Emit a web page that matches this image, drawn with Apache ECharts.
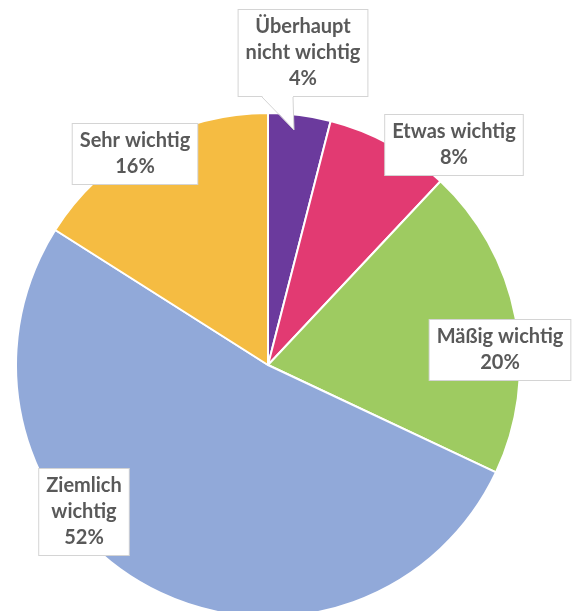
<!DOCTYPE html>
<html>
<head>
<meta charset="utf-8">
<script src="https://cdn.jsdelivr.net/npm/echarts@6/dist/echarts.min.js"></script>
<style>
  html, body { margin: 0; padding: 0; background: #ffffff; }
  #chart { width: 581px; height: 611px; }
</style>
</head>
<body>
<div id="chart"></div>
<script>
// Answer categories, clockwise from 12 o'clock
const categories = [
  'Überhaupt\nnicht wichtig',
  'Etwas wichtig',
  'Mäßig wichtig',
  'Ziemlich\nwichtig',
  'Sehr wichtig'
];
// Share of answers in percent
const shares = [4, 8, 20, 52, 16];
const colors = ['#6b3a9d', '#e23a72', '#9ecb61', '#91a9d9', '#f5bc42'];

// Where each label box is centred
const labelCenters = [
  [303, 53],
  [454, 145],
  [500, 350],
  [84, 512],
  [135, 154]
];

const chart = echarts.init(document.getElementById('chart'), null, { renderer: 'canvas' });

chart.setOption({
  animation: false,
  backgroundColor: '#ffffff',
  series: [{
    type: 'pie',
    center: [268, 365],
    radius: [0, 252],
    startAngle: 90,
    clockwise: true,
    avoidLabelOverlap: false,
    itemStyle: { borderColor: '#ffffff', borderWidth: 2 },
    label: {
      show: true,
      position: 'outside',
      formatter: '{b}\n{d}%',
      fontFamily: 'Lato',
      fontWeight: 'bold',
      fontSize: 20,
      lineHeight: 26,
      color: '#595959',
      align: 'center',
      backgroundColor: '#ffffff',
      borderColor: '#d4d4d4',
      borderWidth: 1,
      padding: [4, 7]
    },
    labelLine: { show: false },
    labelLayout: function (params) {
      const c = labelCenters[params.dataIndex];
      return { x: c[0], y: c[1], align: 'center', verticalAlign: 'middle', hideOverlap: false };
    },
    data: categories.map((name, i) => ({
      name: name,
      value: shares[i],
      itemStyle: { color: colors[i] }
    }))
  }],
  graphic: [
    // callout pointer from the top label to its slice
    {
      type: 'polygon',
      z: 100,
      shape: { points: [[262, 96], [293, 96], [294, 130]] },
      style: { fill: '#ffffff', stroke: null }
    },
    {
      type: 'polyline',
      z: 101,
      shape: { points: [[262, 97], [294, 130], [293, 97]] },
      style: { fill: null, stroke: '#d4d4d4', lineWidth: 1 }
    }
  ]
});
</script>
</body>
</html>
